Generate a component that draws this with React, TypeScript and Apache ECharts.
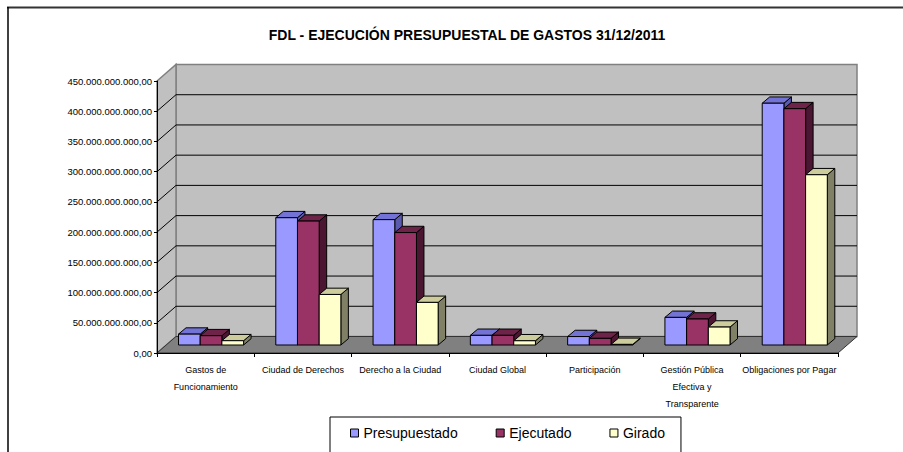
import React, { useEffect, useRef } from "react";
import * as echarts from "echarts";

const categories = [
  "Gastos de\nFuncionamiento",
  "Ciudad de Derechos",
  "Derecho a la Ciudad",
  "Ciudad Global",
  "Participación",
  "Gestión Pública\nEfectiva y\nTransparente",
  "Obligaciones por Pagar",
];
const seriesNames = ["Presupuestado", "Ejecutado", "Girado"];
const presupuestado = [18e9, 210.6e9, 207.4e9, 16e9, 14e9, 45.7e9, 400e9];
const ejecutado = [15.4e9, 205e9, 186e9, 16e9, 11e9, 43e9, 391e9];
const girado = [7.1e9, 83.6e9, 70.5e9, 7e9, 1e9, 29.7e9, 281.7e9];
const yTicks = [0, 50e9, 100e9, 150e9, 200e9, 250e9, 300e9, 350e9, 400e9, 450e9];

const faceColors = [
  { front: "#9999FF", top: "#7373D6", side: "#5A5AAE" },
  { front: "#993366", top: "#6E2349", side: "#4A1632" },
  { front: "#FFFFCC", top: "#CCCC9C", side: "#808066" },
];

const fmt = (v: number) => {
  const s = Math.round(v).toString().replace(/\B(?=(\d{3})+(?!\d))/g, ".");
  return s + ",00";
};

const DX = 19;
const DY = -16.5;

export default function App() {
  const ref = useRef<HTMLDivElement>(null);
  useEffect(() => {
    if (!ref.current) return;
    const chart = echarts.init(ref.current, null, { renderer: "svg" });
    const allData = [presupuestado, ejecutado, girado];

    const barSeries = allData.map((vals, idx) => ({
      name: seriesNames[idx],
      type: "custom",
      z: 3,
      itemStyle: { color: faceColors[idx].front, borderColor: "#000" },
      data: vals.map((v, i) => [i, v]),
      renderItem: (params: any, api: any) => {
        const cat = api.value(0);
        const v = api.value(1);
        const base = api.coord([cat, 0]);
        const top = api.coord([cat, v]);
        const cw = api.size([1, 0])[0];
        const bw = cw * 0.223;
        const xl = base[0] - cw * 0.279 + idx * bw;
        const xr = xl + bw;
        const yb = base[1] - 8;
        const yt = top[1] - 8;
        const dx = 7.5;
        const dy = -6.3;
        const c = faceColors[idx];
        const st = { stroke: "#000", lineWidth: 1 };
        return {
          type: "group",
          children: [
            {
              type: "polygon",
              shape: { points: [[xr, yt], [xr + dx, yt + dy], [xr + dx, yb + dy], [xr, yb]] },
              style: { fill: c.side, ...st },
            },
            {
              type: "polygon",
              shape: { points: [[xl, yt], [xl + dx, yt + dy], [xr + dx, yt + dy], [xr, yt]] },
              style: { fill: c.top, ...st },
            },
            {
              type: "rect",
              shape: { x: xl, y: yt, width: bw, height: yb - yt },
              style: { fill: c.front, ...st },
            },
          ],
        };
      },
    }));

    const wallSeries = {
      type: "custom",
      name: "walls",
      silent: true,
      z: 1,
      data: [[0, 0]],
      renderItem: (params: any, api: any) => {
        const cs = params.coordSys;
        const gx = cs.x;
        const gw = cs.width;
        const y0 = api.coord([0, 0])[1];
        const yTop = api.coord([0, yTicks[yTicks.length - 1]])[1];
        const children: any[] = [
          {
            type: "rect",
            shape: { x: gx + DX, y: yTop + DY, width: gw, height: y0 - yTop },
            style: { fill: "#C0C0C0", stroke: "#808080", lineWidth: 1.5 },
          },
          {
            type: "polygon",
            shape: { points: [[gx, yTop], [gx + DX, yTop + DY], [gx + DX, y0 + DY], [gx, y0]] },
            style: { fill: "#C0C0C0", stroke: "#808080", lineWidth: 1.5 },
          },
          {
            type: "polygon",
            shape: { points: [[gx, y0], [gx + DX, y0 + DY], [gx + gw + DX, y0 + DY], [gx + gw, y0]] },
            style: { fill: "#808080", stroke: "#333", lineWidth: 1 },
          },
        ];
        yTicks.slice(1, yTicks.length - 1).forEach((t) => {
          const y = api.coord([0, t])[1];
          children.push({
            type: "line",
            shape: { x1: gx + DX, y1: y + DY, x2: gx + gw + DX, y2: y + DY },
            style: { stroke: "#000", lineWidth: 1 },
          });
          children.push({
            type: "line",
            shape: { x1: gx, y1: y, x2: gx + DX, y2: y + DY },
            style: { stroke: "#000", lineWidth: 1 },
          });
        });
        return { type: "group", children };
      },
    };

    chart.setOption({
      animation: false,
      backgroundColor: "#fff",
      textStyle: { fontFamily: "Liberation Sans, Arial, sans-serif" },
      title: {
        text: "FDL - EJECUCIÓN PRESUPUESTAL DE GASTOS 31/12/2011",
        left: 462,
        top: 23,
        textAlign: "center",
        textStyle: {
          fontSize: 14,
          fontWeight: "bold",
          color: "#000",
          fontFamily: "Liberation Sans, Arial, sans-serif",
        },
      },
      legend: {
        data: seriesNames,
        left: 330,
        top: 417,
        orient: "horizontal",
        icon: "rect",
        itemWidth: 8,
        itemHeight: 8,
        itemGap: 38,
        padding: [9, 16, 40, 20],
        borderColor: "#000",
        borderWidth: 1,
        backgroundColor: "#fff",
        itemStyle: { borderColor: "#000", borderWidth: 1 },
        textStyle: { fontSize: 14, color: "#000", fontFamily: "Liberation Sans, Arial, sans-serif" },
      },
      graphic: [
        { type: "line", shape: { x1: 7, y1: 7.5, x2: 903, y2: 7.5 }, style: { stroke: "#333", lineWidth: 2 } },
        { type: "line", shape: { x1: 8, y1: 7, x2: 8, y2: 452 }, style: { stroke: "#000", lineWidth: 1.5 } },
      ],
      grid: { left: 157, right: 65, top: 81, bottom: 99, containLabel: false },
      xAxis: {
        type: "category",
        data: categories,
        z: 10,
        axisLine: { lineStyle: { color: "#000", width: 1 } },
        axisTick: { show: true, length: 4, lineStyle: { color: "#000" } },
        axisLabel: {
          interval: 0,
          margin: 8,
          fontSize: 9,
          lineHeight: 17,
          color: "#000",
          fontFamily: "Liberation Sans, Arial, sans-serif",
        },
        splitLine: { show: false },
      },
      yAxis: {
        type: "value",
        min: 0,
        max: 450e9,
        interval: 50e9,
        z: 10,
        axisLine: { show: true, lineStyle: { color: "#000", width: 1 } },
        axisTick: { show: true, length: 3, lineStyle: { color: "#000" } },
        axisLabel: {
          formatter: (v: number) => fmt(v),
          fontSize: 9.5,
          margin: 5,
          color: "#000",
          fontFamily: "Liberation Sans, Arial, sans-serif",
        },
        splitLine: { show: false },
      },
      series: [wallSeries, ...barSeries],
    });
    return () => chart.dispose();
  }, []);
  return <div ref={ref} style={{ width: 903, height: 452, position: "absolute", left: 0, top: 0 }} />;
}
